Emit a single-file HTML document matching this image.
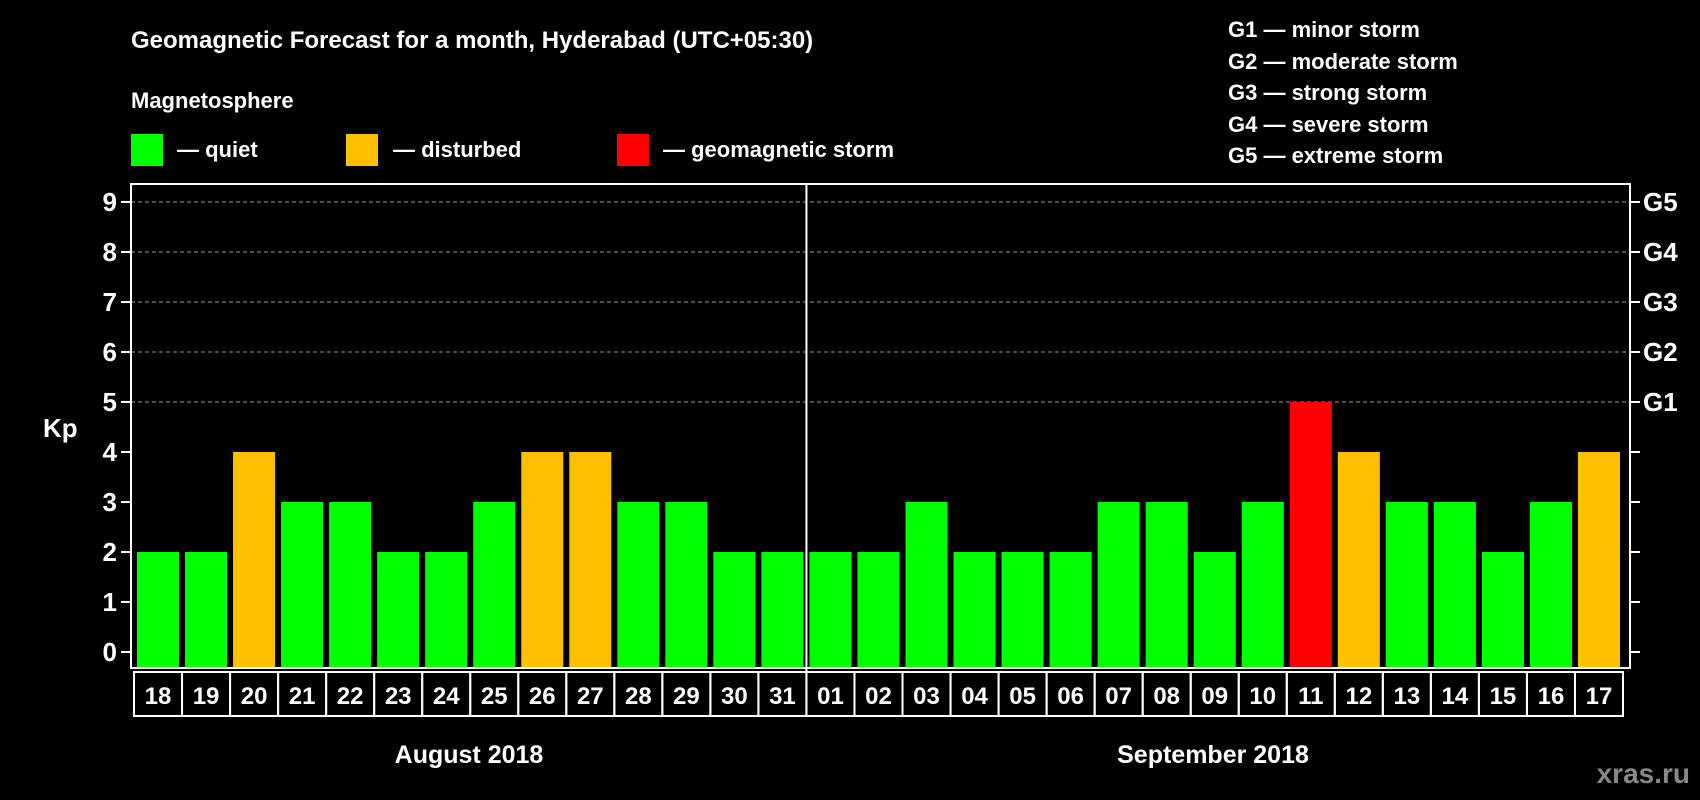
<!DOCTYPE html>
<html><head><meta charset="utf-8"><style>
html,body{margin:0;padding:0;background:#000;}
svg{display:block;font-family:"Liberation Sans",Arial,sans-serif;font-weight:bold;}
</style></head><body>
<svg id="chart" width="1700" height="800" viewBox="0 0 1700 800">
<text x="131" y="48" fill="#fff" font-size="24">Geomagnetic Forecast for a month, Hyderabad (UTC+05:30)</text>
<text x="131" y="108" fill="#fff" font-size="22">Magnetosphere</text>
<g><rect x="131" y="134" width="32" height="32" fill="#00ff00"/><text x="177" y="157" fill="#fff" font-size="22">— quiet</text></g>
<g><rect x="346" y="134" width="32" height="32" fill="#ffc000"/><text x="393" y="157" fill="#fff" font-size="22">— disturbed</text></g>
<g><rect x="617" y="134" width="32" height="32" fill="#ff0000"/><text x="663" y="157" fill="#fff" font-size="22">— geomagnetic storm</text></g>
<g fill="#fff" font-size="22">
<text x="1228" y="37">G1 — minor storm</text>
<text x="1228" y="69">G2 — moderate storm</text>
<text x="1228" y="100">G3 — strong storm</text>
<text x="1228" y="132">G4 — severe storm</text>
<text x="1228" y="163">G5 — extreme storm</text>
</g>
<text x="43" y="437" fill="#fff" font-size="26">Kp</text>
<g id="plot"></g>
<text x="469" y="763" fill="#fff" font-size="25" text-anchor="middle">August 2018</text>
<text x="1213" y="763" fill="#fff" font-size="25" text-anchor="middle">September 2018</text>
<text x="1690" y="783" fill="#888" font-size="28" text-anchor="end">xras.ru</text>
</svg>
<script>
const days=["18","19","20","21","22","23","24","25","26","27","28","29","30","31","01","02","03","04","05","06","07","08","09","10","11","12","13","14","15","16","17"];
const kpValues=[2,2,4,3,3,2,2,3,4,4,3,3,2,2,2,2,3,2,2,2,3,3,2,3,5,4,3,3,2,3,4];
const yTicks=[0,1,2,3,4,5,6,7,8,9];
const gLabels=["","","","","","G1","G2","G3","G4","G5"];
const monthSplit=14;
const NS="http://www.w3.org/2000/svg";
const g=document.getElementById('plot');
const L=131,R=1630,T=184,B=668,cellL=134,cellR=1623,labT=672,labB=716;
const y0=652,unit=50;
const yScale=v=>y0-v*unit;
const pitch=(cellR-cellL)/days.length;
const xScale=i=>cellL+i*pitch;
function mk(t,a){const e=document.createElementNS(NS,t);for(const k in a)e.setAttribute(k,a[k]);g.appendChild(e);return e;}
yTicks.forEach((v,i)=>{
  const y=yScale(v);
  if(v>=5){const l=mk('line',{x1:L,x2:R,y1:y,y2:y,stroke:'#999','stroke-width':1,'stroke-dasharray':'4,3'});
  
  }
  mk('line',{x1:L-10,x2:L,y1:y,y2:y,stroke:'#fff','stroke-width':2});
  mk('line',{x1:R,x2:R+10,y1:y,y2:y,stroke:'#fff','stroke-width':2});
  const t=mk('text',{x:L-14,y:y+9,fill:'#fff','font-size':26,'text-anchor':'end'});t.textContent=v;
  
  
  if(gLabels[i]){const t2=mk('text',{x:R+13,y:y+9,fill:'#fff','font-size':26});t2.textContent=gLabels[i];
  
  }
});
kpValues.forEach((v,i)=>{
  const c=v>=5?'#ff0000':(v>=4?'#ffc000':'#00ff00');
  const r=mk('rect',{x:xScale(i)+3,y:yScale(v),width:pitch-6,height:yScale(0)-yScale(v)+16,fill:c});
  
  
  const cell=mk('rect',{x:xScale(i),y:labT,width:pitch,height:labB-labT,fill:'none',stroke:'#fff','stroke-width':2});
  
  
  const t=mk('text',{x:xScale(i)+pitch/2,y:labT+32,fill:'#fff','font-size':24,'text-anchor':'middle'});t.textContent=days[i];
  
  
});
const fr=mk('rect',{x:L,y:T,width:R-L,height:B-T,fill:'none',stroke:'#fff','stroke-width':2});


const dx=xScale(monthSplit);
const dv=mk('line',{x1:dx,x2:dx,y1:T,y2:labB,stroke:'#fff','stroke-width':2});


</script>
</body></html>
